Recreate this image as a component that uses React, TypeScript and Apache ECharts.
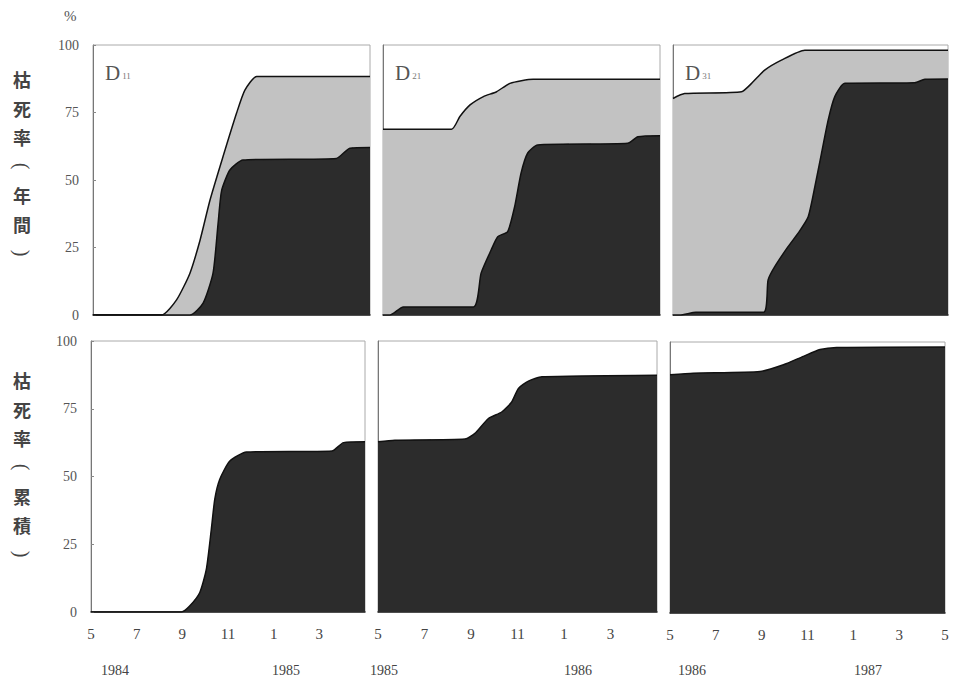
import React, { useEffect, useRef } from "react";
import * as echarts from "echarts";

// months since 1 May (0 = May, 12 = next May)
const monthTicks = ["5", "7", "9", "11", "1", "3", "5"];
const yTicks = [0, 25, 50, 75, 100];
const panelLabels = ["11", "21", "31"];
const yearLabels = ["1984", "1985", "1985", "1986", "1986", "1987"];
const yTitleTop = ["枯", "死", "率", "(", "年", "間", ")"];
const yTitleBottom = ["枯", "死", "率", "(", "累", "積", ")"];

// annual mortality: total (light) and dead (dark)
const annualTotal1 = [[0, 0], [2.97, 0], [3.62, 5.6], [4.2, 15.5], [4.64, 27.8], [5.07, 42.6], [5.63, 58.6], [6.22, 74.8], [6.58, 83.3], [7.09, 88.3], [12, 88.3]];
const annualDead1 = [[0, 0], [4.2, 0], [4.77, 4.4], [5.2, 15.5], [5.42, 34], [5.57, 46], [5.93, 53.7], [6.5, 57.4], [10.55, 58], [11.13, 61.8], [12, 62]];
const annualTotal2 = [[0, 68.8], [2.97, 68.8], [3.33, 73.5], [3.77, 77.8], [4.35, 80.9], [4.92, 82.7], [5.5, 85.8], [6.5, 87.3], [12, 87.3]];
const annualDead2 = [[0, 0], [0.3, 0], [0.88, 3], [3.92, 3], [4.25, 15.5], [4.68, 24], [4.97, 29], [5.4, 30.9], [5.7, 40], [5.98, 52.5], [6.27, 60], [6.7, 63], [10.6, 63.6], [11.04, 66], [12, 66.4]];
const annualTotal3 = [[0, 80.2], [0.51, 82], [2.99, 82.7], [3.43, 85.8], [4.0, 90.7], [4.73, 94.4], [5.75, 98.1], [12, 98.1]];
const annualDead3 = [[0, 0], [0.3, 0], [1, 1], [3.95, 1], [4.15, 13], [4.44, 17.9], [5.02, 25.3], [5.46, 30.3], [5.9, 36.4], [6.19, 47.5], [6.48, 59.9], [6.77, 72.2], [7.06, 80.9], [7.5, 85.8], [10.55, 86], [10.99, 87.3], [12, 87.4]];

// cumulative mortality
const cumulative1 = [[0, 0], [3.96, 0], [4.32, 2.2], [4.76, 7.1], [5.05, 15.7], [5.27, 30.5], [5.42, 41.6], [5.64, 49], [6.08, 55.7], [6.81, 59], [10.55, 59.4], [11.06, 62.5], [12, 62.8]];
const cumulative2 = [[0, 62.8], [0.72, 63.4], [3.74, 63.8], [4.17, 65.9], [4.75, 71.4], [5.32, 73.8], [5.75, 77.5], [6.04, 82.5], [6.47, 85.2], [7.05, 86.8], [12, 87.4]];
const cumulative3 = [[0, 87.9], [1.02, 88.5], [3.93, 89.1], [4.95, 91.6], [5.82, 94.7], [6.55, 97.2], [7.27, 98], [12, 98.2]];

const SERIF = "Liberation Serif";
const CJK = "Noto Sans CJK JP";
const LIGHT = "#c2c2c2";
const DARK = "#2c2c2c";

const grids = [
  { left: 93, top: 45, width: 277, height: 270 },
  { left: 383, top: 45, width: 277, height: 270 },
  { left: 673, top: 45, width: 275, height: 270 },
  { left: 91, top: 341, width: 274, height: 271 },
  { left: 378, top: 341, width: 279, height: 271 },
  { left: 670, top: 342, width: 275, height: 271 },
];

export default function App() {
  const ref = useRef<HTMLDivElement>(null);
  useEffect(() => {
    if (!ref.current) return;
    const chart = echarts.init(ref.current, undefined, { renderer: "svg" });

    const xAxis = grids.map((_, i) => ({
      type: "value",
      gridIndex: i,
      min: 0,
      max: 12,
      interval: 2,
      axisLine: { show: true, onZero: false, lineStyle: { color: "#222", width: 1.5 } },
      axisTick: { show: false },
      splitLine: { show: false },
      axisLabel: {
        show: i >= 3,
        margin: 14,
        color: "#444",
        fontSize: 15,
        fontFamily: SERIF,
        formatter: (v: number) => {
          const idx = Math.round(v / 2);
          if (idx === 6 && i !== 5) return "";
          return monthTicks[idx];
        },
      },
    }));

    const yAxis = grids.map((_, i) => ({
      type: "value",
      gridIndex: i,
      min: 0,
      max: 100,
      interval: 25,
      axisLine: { show: true, lineStyle: { color: "#777", width: 1 } },
      axisTick: { show: i === 0 || i === 3, inside: true, length: 3, lineStyle: { color: "#888" } },
      splitLine: { show: false },
      axisLabel: {
        show: i === 0 || i === 3,
        margin: 14,
        color: "#555",
        fontSize: 14,
        fontFamily: SERIF,
        formatter: (v: number) => (yTicks.includes(v) ? String(v) : ""),
      },
    }));

    const mk = (data: number[][], idx: number, color: string, z: number) => ({
      type: "line",
      xAxisIndex: idx,
      yAxisIndex: idx,
      data,
      showSymbol: false,
      smooth: 0.2,
      clip: true,
      lineStyle: { color: "#111", width: 1.5 },
      areaStyle: { color, opacity: 1, origin: "start" },
      z,
    });

    const series = [
      mk(annualTotal1, 0, LIGHT, 2),
      mk(annualDead1, 0, DARK, 3),
      mk(annualTotal2, 1, LIGHT, 2),
      mk(annualDead2, 1, DARK, 3),
      mk(annualTotal3, 2, LIGHT, 2),
      mk(annualDead3, 2, DARK, 3),
      mk(cumulative1, 3, DARK, 3),
      mk(cumulative2, 4, DARK, 3),
      mk(cumulative3, 5, DARK, 3),
    ];

    const graphics: any[] = [];
    graphics.push({
      type: "text",
      left: 64,
      top: 8,
      style: { text: "%", fontSize: 15, fontFamily: SERIF, fill: "#555" },
    });
    const addTitle = (chars: string[], y0: number) => {
      chars.forEach((c, k) => {
        const isParen = c === "(" || c === ")";
        graphics.push({
          type: "text",
          x: 22,
          y: y0 + k * 29,
          rotation: isParen ? -Math.PI / 2 : 0,
          style: {
            text: c,
            fontSize: isParen ? 20 : 18,
            fontFamily: isParen ? SERIF : CJK,
            fontWeight: isParen ? "normal" : "bold",
            fill: "#444",
            align: "center",
            verticalAlign: "middle",
          },
        });
      });
    };
    addTitle(yTitleTop, 79);
    addTitle(yTitleBottom, 380);

    panelLabels.forEach((s, k) => {
      const g = grids[k];
      graphics.push({
        type: "text",
        x: g.left + 12,
        y: g.top + 28,
        z: 10,
        style: {
          text: `{a|D}{b|${s}}`,
          verticalAlign: "middle",
          rich: {
            a: { fontSize: 21, fontFamily: SERIF, fill: "#555" },
            b: { fontSize: 9, fontFamily: SERIF, fill: "#777", padding: [6, 0, 0, 2] },
          },
        },
      });
    });
    const yearX = [115, 286, 384, 578, 692, 868];
    yearLabels.forEach((s, k) => {
      graphics.push({
        type: "text",
        x: yearX[k],
        y: 670,
        style: { text: s, fontSize: 14, fontFamily: SERIF, fill: "#444", align: "center", verticalAlign: "middle" },
      });
    });

    chart.setOption({
      animation: false,
      backgroundColor: "#fff",
      grid: grids.map((g) => ({ ...g, show: true, borderColor: "#aaa", borderWidth: 1, backgroundColor: "#fff" })),
      xAxis,
      yAxis,
      series,
      graphic: graphics,
    });
    return () => chart.dispose();
  }, []);
  return <div ref={ref} style={{ position: "fixed", left: 0, top: 0, width: 959, height: 690 }} />;
}
